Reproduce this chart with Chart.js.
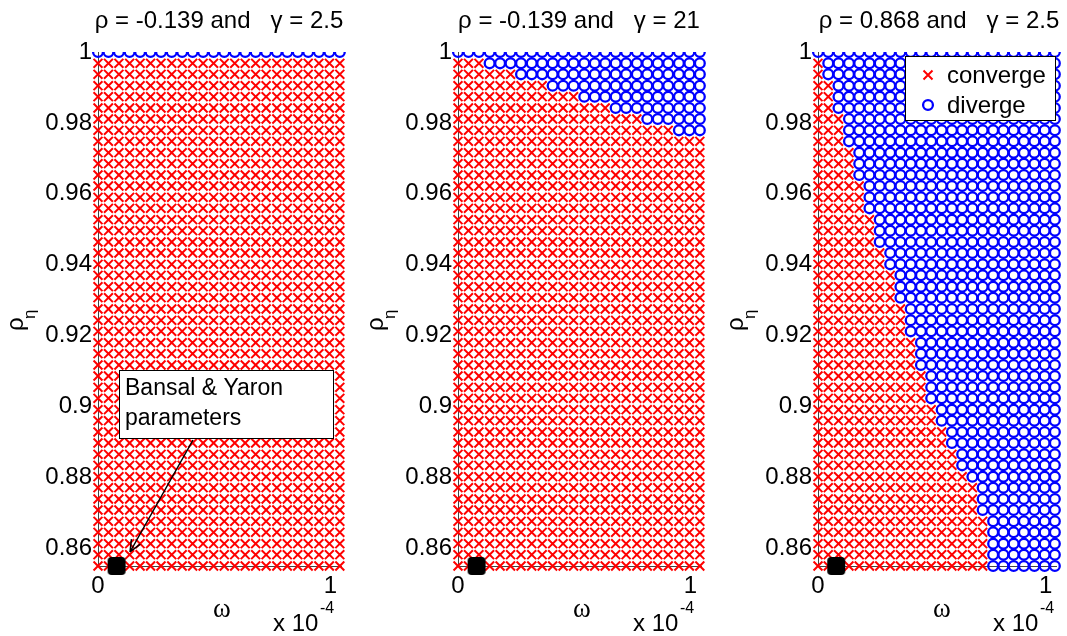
<!DOCTYPE html>
<html>
<head>
<meta charset="utf-8">
<script src="https://cdn.jsdelivr.net/npm/chart.js@4.4.1/dist/chart.umd.min.js"></script>
<style>
  html, body { margin: 0; padding: 0; background: #fff; }
  #wrap { position: relative; width: 1067px; height: 636px; overflow: hidden; }
  canvas { position: absolute; top: 0; }
</style>
</head>
<body>
<div id="wrap">
  <canvas id="p1" width="360" height="636" style="left:0px"></canvas>
  <canvas id="p2" width="360" height="636" style="left:360px"></canvas>
  <canvas id="p3" width="347" height="636" style="left:720px"></canvas>
</div>
<script>
// grid of omega values (units of 1e-4) and rho_eta values
const omegaE4 = [0, 0.045, 0.090, 0.136, 0.181, 0.226, 0.271, 0.317, 0.362, 0.407, 0.452, 0.497,
  0.543, 0.588, 0.633, 0.678, 0.723, 0.769, 0.814, 0.859, 0.904, 0.950, 0.995, 1.040];
const rhoEta = [1.0000, 0.9968, 0.9937, 0.9905, 0.9874, 0.9842, 0.9811, 0.9779, 0.9748, 0.9716,
  0.9685, 0.9653, 0.9622, 0.9590, 0.9559, 0.9527, 0.9496, 0.9464, 0.9433, 0.9401,
  0.9370, 0.9338, 0.9307, 0.9275, 0.9243, 0.9212, 0.9180, 0.9149, 0.9117, 0.9086,
  0.9054, 0.9023, 0.8991, 0.8960, 0.8928, 0.8897, 0.8865, 0.8834, 0.8802, 0.8771,
  0.8739, 0.8708, 0.8676, 0.8645, 0.8613, 0.8582, 0.8550];

// number of omega grid points (from the left) that converge, one entry per rho_eta row
const convergeCols1 = [0, 24, 24, 24, 24, 24, 24, 24, 24, 24,
  24, 24, 24, 24, 24, 24, 24, 24, 24, 24,
  24, 24, 24, 24, 24, 24, 24, 24, 24, 24,
  24, 24, 24, 24, 24, 24, 24, 24, 24, 24,
  24, 24, 24, 24, 24, 24, 24];
const convergeCols2 = [0, 3, 6, 9, 12, 15, 18, 21, 24, 24,
  24, 24, 24, 24, 24, 24, 24, 24, 24, 24,
  24, 24, 24, 24, 24, 24, 24, 24, 24, 24,
  24, 24, 24, 24, 24, 24, 24, 24, 24, 24,
  24, 24, 24, 24, 24, 24, 24];
const convergeCols3 = [0, 1, 1, 2, 2, 2, 3, 3, 3, 4,
  4, 4, 5, 5, 5, 6, 6, 6, 7, 7,
  8, 8, 8, 9, 9, 9, 10, 10, 10, 11,
  11, 11, 12, 12, 13, 13, 14, 14, 15, 16,
  16, 16, 17, 17, 17, 17, 17];

const panelTitles = ['\u03C1 = -0.139 and   \u03B3 = 2.5', '\u03C1 = -0.139 and   \u03B3 = 21', '\u03C1 = 0.868 and   \u03B3 = 2.5'];

// Bansal & Yaron calibration point
const byOmegaE4 = [0.08];
const byRhoEta = [0.855];

const yTicks = [0.86, 0.88, 0.9, 0.92, 0.94, 0.96, 0.98, 1];
const yTickLabels = ['0.86', '0.88', '0.9', '0.92', '0.94', '0.96', '0.98', '1'];
const xTicks = [0, 1];
const xTickLabels = ['0', '1'];

const FONT = "'Liberation Sans', Arial, sans-serif";
const SERIF = "'Liberation Serif', 'Times New Roman', serif";

function splitGrid(counts) {
  const conv = [], div = [];
  rhoEta.forEach((r, k) => {
    omegaE4.forEach((w, j) => {
      (j < counts[k] ? conv : div).push({ x: w, y: r });
    });
  });
  return { conv, div };
}

// rounded black square used as marker for the calibration point
const squareMark = document.createElement('canvas');
squareMark.width = 20; squareMark.height = 20;
(function () {
  const c = squareMark.getContext('2d');
  c.fillStyle = '#000';
  c.beginPath();
  c.roundRect(1, 1, 18, 18, 4);
  c.fill();
})();

// texts and decorations drawn on top of each panel
const decor = {
  id: 'decor',
  afterDraw(chart, args, opts) {
    const ctx = chart.ctx;
    ctx.save();
    ctx.fillStyle = '#000';
    // title
    ctx.font = '24px ' + FONT;
    ctx.textAlign = 'center';
    ctx.textBaseline = 'alphabetic';
    ctx.fillText(opts.title, 219, 28);
    // y label rho_eta
    ctx.save();
    ctx.translate(23, 331);
    ctx.rotate(-Math.PI / 2);
    ctx.textAlign = 'left';
    ctx.font = '24px ' + FONT;
    ctx.fillText('\u03C1', 0, 0);
    ctx.font = '17px ' + FONT;
    ctx.fillText('\u03B7', 12, 12);
    ctx.restore();
    // x label omega and exponent
    ctx.textAlign = 'center';
    ctx.font = '27px ' + SERIF;
    ctx.fillText('\u03C9', 222, 617);
    ctx.textAlign = 'left';
    ctx.font = '24px ' + FONT;
    ctx.fillText('x 10', 273, 631);
    ctx.font = '16px ' + FONT;
    ctx.fillText('-4', 320, 613);

    if (opts.legend) {
      ctx.fillStyle = '#fff';
      ctx.fillRect(185.5, 56.5, 150, 64);
      ctx.strokeStyle = '#000';
      ctx.lineWidth = 1;
      ctx.strokeRect(185.5, 56.5, 150, 64);
      ctx.strokeStyle = '#ff0000';
      ctx.lineWidth = 2;
      ctx.beginPath();
      ctx.moveTo(203.5, 70.5); ctx.lineTo(212.5, 79.5);
      ctx.moveTo(212.5, 70.5); ctx.lineTo(203.5, 79.5);
      ctx.stroke();
      ctx.strokeStyle = '#0000ff';
      ctx.lineWidth = 2.3;
      ctx.beginPath();
      ctx.arc(208, 105, 4.9, 0, Math.PI * 2);
      ctx.stroke();
      ctx.fillStyle = '#000';
      ctx.font = '24px ' + FONT;
      ctx.textBaseline = 'middle';
      ctx.fillText('converge', 227, 76);
      ctx.fillText('diverge', 227, 106);
    }
    if (opts.note) {
      ctx.fillStyle = '#fff';
      ctx.fillRect(119.5, 370.5, 214, 68);
      ctx.strokeStyle = '#000';
      ctx.lineWidth = 1;
      ctx.strokeRect(119.5, 370.5, 214, 68);
      ctx.fillStyle = '#000';
      ctx.font = '23px ' + FONT;
      ctx.textBaseline = 'middle';
      ctx.fillText('Bansal & Yaron', 125, 389);
      ctx.fillText('parameters', 125, 419);
      // arrow to the calibration point
      const x0 = 193, y0 = 440, x1 = 130, y1 = 552;
      ctx.strokeStyle = '#000';
      ctx.lineWidth = 1.5;
      ctx.beginPath();
      ctx.moveTo(x0, y0); ctx.lineTo(x1, y1);
      const a = Math.atan2(y1 - y0, x1 - x0);
      ctx.moveTo(x1, y1); ctx.lineTo(x1 - 13 * Math.cos(a - 0.4), y1 - 13 * Math.sin(a - 0.4));
      ctx.moveTo(x1, y1); ctx.lineTo(x1 - 13 * Math.cos(a + 0.4), y1 - 13 * Math.sin(a + 0.4));
      ctx.stroke();
    }
    ctx.restore();
  }
};

function makePanel(id, counts, title, rightPad, legend, note) {
  const g = splitGrid(counts);
  const noClip = { left: false, top: 0, right: false, bottom: false };
  new Chart(document.getElementById(id), {
    type: 'scatter',
    data: {
      datasets: [
        {
          label: 'converge',
          data: g.conv,
          pointStyle: 'crossRot',
          pointRadius: 6.3,
          borderColor: '#ff0000',
          borderWidth: 2,
          clip: noClip,
          order: 3
        },
        {
          label: 'diverge',
          data: g.div,
          pointStyle: 'circle',
          pointRadius: 4.9,
          borderColor: '#0000ff',
          backgroundColor: 'rgba(0,0,0,0)',
          borderWidth: 2.3,
          clip: noClip,
          order: 2
        },
        {
          label: 'Bansal & Yaron',
          data: byOmegaE4.map((w, i) => ({ x: w, y: byRhoEta[i] })),
          pointStyle: squareMark,
          pointRadius: 10,
          clip: false,
          order: 1
        }
      ]
    },
    options: {
      responsive: false,
      animation: false,
      events: [],
      layout: { padding: { left: 0, top: 52, right: rightPad, bottom: 0 } },
      plugins: {
        legend: { display: false },
        tooltip: { enabled: false },
        decor: { title: title, legend: legend, note: note }
      },
      scales: {
        x: {
          type: 'linear',
          min: 0,
          max: 1.045,
          grid: { display: false, drawTicks: false },
          border: { display: true, color: '#444', width: 1 },
          afterBuildTicks: s => { s.ticks = xTicks.map(v => ({ value: v })); },
          afterFit: s => { s.height = 70; },
          ticks: {
            padding: 6,
            color: '#000',
            font: { family: FONT, size: 24 },
            maxRotation: 0,
            callback: (v, i) => xTickLabels[i]
          }
        },
        y: {
          type: 'linear',
          min: 0.855,
          max: 1,
          grid: { display: false, drawTicks: false },
          border: { display: true, color: '#444', width: 1 },
          afterBuildTicks: s => { s.ticks = yTicks.map(v => ({ value: v })); },
          afterFit: s => { s.width = 98; },
          ticks: {
            padding: 6,
            color: '#000',
            font: { family: FONT, size: 24 },
            callback: (v, i) => yTickLabels[i]
          }
        }
      }
    },
    plugins: [decor]
  });
}

makePanel('p1', convergeCols1, panelTitles[0], 19, false, true);
makePanel('p2', convergeCols2, panelTitles[1], 19, false, false);
makePanel('p3', convergeCols3, panelTitles[2], 6, true, false);
</script>
</body>
</html>
